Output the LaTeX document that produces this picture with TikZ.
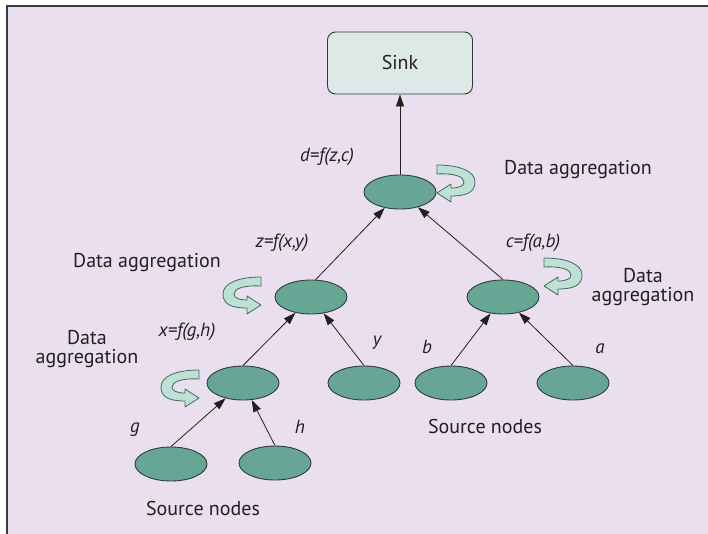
\documentclass[tikz,border=0pt]{standalone}
\usepackage{fontspec}
\setmainfont{PT Sans}
\usetikzlibrary{shapes.geometric,arrows.meta}
\definecolor{bgpanel}{HTML}{E9DFEE}
\definecolor{framegray}{HTML}{3A3A3E}
\definecolor{nodefill}{HTML}{67A594}
\definecolor{nodeline}{HTML}{2F3D3A}
\definecolor{sinkfill}{HTML}{DDE9E6}
\definecolor{aggfill}{HTML}{BFE0D5}
\definecolor{aggline}{HTML}{3F6B60}
\definecolor{inkgray}{HTML}{231F20}
\tikzset{
  sensor/.style={ellipse, draw=nodeline, fill=nodefill, line width=0.9pt,
    minimum width=72pt, minimum height=34pt, inner sep=0pt},
  sinkbox/.style={rectangle, rounded corners=8pt, draw=nodeline, fill=sinkfill,
    line width=0.9pt, minimum width=145pt, minimum height=62pt, inner sep=0pt,
    font=\fontsize{20}{22}\selectfont, text=inkgray},
  edge/.style={draw=inkgray, line width=0.8pt,
    -{Triangle[length=12pt,width=8pt]}},
  lbl/.style={inner sep=0pt, text=inkgray, font=\fontsize{20}{19}\selectfont,
    align=center},
  fn/.style={lbl, font=\fontsize{19}{19}\selectfont\itshape},
  aggarrow/.pic={
    \draw[fill=aggfill, draw=aggline, line width=0.8pt, line join=round]
      (0,0) -- (0,9)
      .. controls (18,8) and (27,12) .. (27,17)
      .. controls (27,21) and (22,23) .. (14,23)
      -- (14,19) -- (0,28) -- (14,37) -- (14,31)
      .. controls (30,31) and (38,27) .. (38,17)
      .. controls (38,6) and (22,0) .. (0,0) -- cycle;
  }
}
\begin{document}
\begin{tikzpicture}[x=1pt,y=-1pt]
\useasboundingbox (0,0) rectangle (708,534);
% panel with frame on top and left
\fill[white] (0,0) rectangle (708,534);
\fill[bgpanel] (7,6) rectangle (708,534);
\draw[framegray, line width=2pt] (7,534) -- (7,6) -- (708,6);

% sink and sensor nodes
\node[sinkbox] (sink) at (400,63) {Sink};
\node[sensor] (rootn) at (400,192) {};
\node[sensor] (z) at (311,297) {};
\node[sensor] (c) at (503,297) {};
\node[sensor] (x) at (243,383) {};
\node[sensor] (y) at (364,383) {};
\node[sensor] (b) at (451,383) {};
\node[sensor] (a) at (573,383) {};
\node[sensor] (g) at (171,464) {};
\node[sensor] (h) at (275,463) {};

% data flow towards the sink
\draw[edge] (rootn) -- (sink);
\draw[edge] (z.75) -- (rootn);
\draw[edge] (c.north) -- (rootn);
\draw[edge] (x.north) -- (z);
\draw[edge] (y.north) -- (z);
\draw[edge] (b.north) -- (c);
\draw[edge] (a.north) -- (c);
\draw[edge] (g.north) -- (x);
\draw[edge] (h.north) -- (x);

% aggregation loops
\pic at (437,165) {aggarrow};
\pic at (544,258) {aggarrow};
\pic[xscale=-1] at (261,277) {aggarrow};
\pic[xscale=-1] at (199,370) {aggarrow};

% labels
\node[fn] (ld) at (327,157) {d=f(z,c)};
\node[lbl] (agg1) at (578,170) {Data aggregation};
\node[fn] (lz) at (282,243) {z=f(x,y)};
\node[fn] (lc) at (533,243) {c=f(a,b)};
\node[lbl] (agg2) at (147,263) {Data aggregation};
\node[lbl] (agg3) at (643,287) {Data\\aggregation};
\node[fn] (lx) at (187,332) {x=f(g,h)};
\node[lbl] (agg4) at (87,349) {Data\\aggregation};
\node[fn] (ly) at (377,343) {y};
\node[fn] (lb) at (427,347) {b};
\node[fn] (la) at (600,349) {a};
\node[fn] (lg) at (135,430) {g};
\node[fn] (lh) at (300,427) {h};
\node[lbl] (src1) at (485,426) {Source nodes};
\node[lbl] (src2) at (203,508) {Source nodes};
\end{tikzpicture}
\end{document}
